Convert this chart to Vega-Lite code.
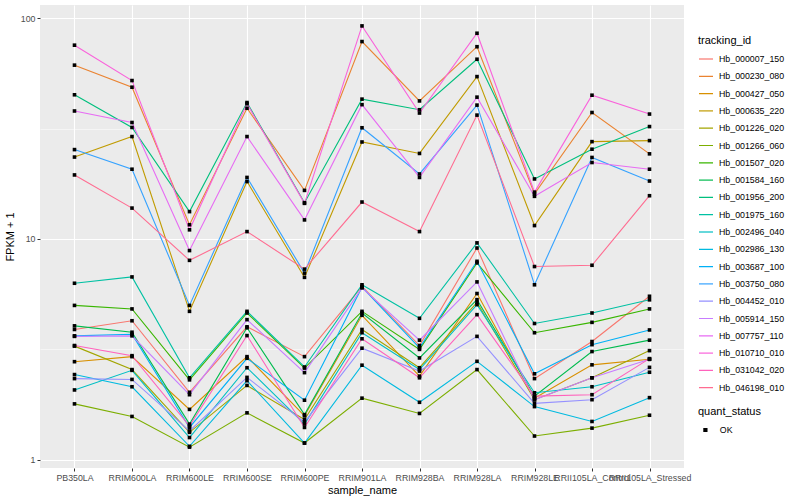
{
"$schema": "https://vega.github.io/schema/vega-lite/v6.json",
"width": 644, "height": 463,
"autosize": {"type": "none"},
"padding": {"left": 40, "top": 5, "right": 116, "bottom": 32},
"background": "white",
"config": {
 "font": "Liberation Sans",
 "view": {"fill": "#EBEBEB", "stroke": null},
 "axis": {"domain": false, "gridColor": "white", "tickColor": "#333333", "tickSize": 3, "labelColor": "#4D4D4D", "labelFontSize": 8.8, "titleFontSize": 11, "titleFontWeight": "normal", "titleColor": "black", "labelPadding": 2}
},
"data": {"values": [
{"tracking_id":"Hb_000007_150","sample_name":"PB350LA","fpkm":3.89,"quant_status":"OK"},
{"tracking_id":"Hb_000007_150","sample_name":"RRIM600LA","fpkm":4.26,"quant_status":"OK"},
{"tracking_id":"Hb_000007_150","sample_name":"RRIM600LE","fpkm":2.02,"quant_status":"OK"},
{"tracking_id":"Hb_000007_150","sample_name":"RRIM600SE","fpkm":4.0,"quant_status":"OK"},
{"tracking_id":"Hb_000007_150","sample_name":"RRIM600PE","fpkm":2.93,"quant_status":"OK"},
{"tracking_id":"Hb_000007_150","sample_name":"RRIM901LA","fpkm":6.1,"quant_status":"OK"},
{"tracking_id":"Hb_000007_150","sample_name":"RRIM928BA","fpkm":3.29,"quant_status":"OK"},
{"tracking_id":"Hb_000007_150","sample_name":"RRIM928LA","fpkm":9.1,"quant_status":"OK"},
{"tracking_id":"Hb_000007_150","sample_name":"RRIM928LE","fpkm":2.33,"quant_status":"OK"},
{"tracking_id":"Hb_000007_150","sample_name":"RRII105LA_Control","fpkm":3.43,"quant_status":"OK"},
{"tracking_id":"Hb_000007_150","sample_name":"RRII105LA_Stressed","fpkm":5.5,"quant_status":"OK"},
{"tracking_id":"Hb_000230_080","sample_name":"PB350LA","fpkm":61.3,"quant_status":"OK"},
{"tracking_id":"Hb_000230_080","sample_name":"RRIM600LA","fpkm":48.7,"quant_status":"OK"},
{"tracking_id":"Hb_000230_080","sample_name":"RRIM600LE","fpkm":11.6,"quant_status":"OK"},
{"tracking_id":"Hb_000230_080","sample_name":"RRIM600SE","fpkm":39.1,"quant_status":"OK"},
{"tracking_id":"Hb_000230_080","sample_name":"RRIM600PE","fpkm":16.6,"quant_status":"OK"},
{"tracking_id":"Hb_000230_080","sample_name":"RRIM901LA","fpkm":78.4,"quant_status":"OK"},
{"tracking_id":"Hb_000230_080","sample_name":"RRIM928BA","fpkm":42.2,"quant_status":"OK"},
{"tracking_id":"Hb_000230_080","sample_name":"RRIM928LA","fpkm":74.3,"quant_status":"OK"},
{"tracking_id":"Hb_000230_080","sample_name":"RRIM928LE","fpkm":16.0,"quant_status":"OK"},
{"tracking_id":"Hb_000230_080","sample_name":"RRII105LA_Control","fpkm":37.4,"quant_status":"OK"},
{"tracking_id":"Hb_000230_080","sample_name":"RRII105LA_Stressed","fpkm":24.3,"quant_status":"OK"},
{"tracking_id":"Hb_000427_050","sample_name":"PB350LA","fpkm":2.78,"quant_status":"OK"},
{"tracking_id":"Hb_000427_050","sample_name":"RRIM600LA","fpkm":2.93,"quant_status":"OK"},
{"tracking_id":"Hb_000427_050","sample_name":"RRIM600LE","fpkm":1.69,"quant_status":"OK"},
{"tracking_id":"Hb_000427_050","sample_name":"RRIM600SE","fpkm":2.93,"quant_status":"OK"},
{"tracking_id":"Hb_000427_050","sample_name":"RRIM600PE","fpkm":1.58,"quant_status":"OK"},
{"tracking_id":"Hb_000427_050","sample_name":"RRIM901LA","fpkm":4.51,"quant_status":"OK"},
{"tracking_id":"Hb_000427_050","sample_name":"RRIM928BA","fpkm":2.39,"quant_status":"OK"},
{"tracking_id":"Hb_000427_050","sample_name":"RRIM928LA","fpkm":5.66,"quant_status":"OK"},
{"tracking_id":"Hb_000427_050","sample_name":"RRIM928LE","fpkm":1.90,"quant_status":"OK"},
{"tracking_id":"Hb_000427_050","sample_name":"RRII105LA_Control","fpkm":2.69,"quant_status":"OK"},
{"tracking_id":"Hb_000427_050","sample_name":"RRII105LA_Stressed","fpkm":2.85,"quant_status":"OK"},
{"tracking_id":"Hb_000635_220","sample_name":"PB350LA","fpkm":23.5,"quant_status":"OK"},
{"tracking_id":"Hb_000635_220","sample_name":"RRIM600LA","fpkm":29.1,"quant_status":"OK"},
{"tracking_id":"Hb_000635_220","sample_name":"RRIM600LE","fpkm":4.7,"quant_status":"OK"},
{"tracking_id":"Hb_000635_220","sample_name":"RRIM600SE","fpkm":18.2,"quant_status":"OK"},
{"tracking_id":"Hb_000635_220","sample_name":"RRIM600PE","fpkm":6.7,"quant_status":"OK"},
{"tracking_id":"Hb_000635_220","sample_name":"RRIM901LA","fpkm":27.5,"quant_status":"OK"},
{"tracking_id":"Hb_000635_220","sample_name":"RRIM928BA","fpkm":24.4,"quant_status":"OK"},
{"tracking_id":"Hb_000635_220","sample_name":"RRIM928LA","fpkm":54.4,"quant_status":"OK"},
{"tracking_id":"Hb_000635_220","sample_name":"RRIM928LE","fpkm":11.5,"quant_status":"OK"},
{"tracking_id":"Hb_000635_220","sample_name":"RRII105LA_Control","fpkm":27.6,"quant_status":"OK"},
{"tracking_id":"Hb_000635_220","sample_name":"RRII105LA_Stressed","fpkm":27.9,"quant_status":"OK"},
{"tracking_id":"Hb_001226_020","sample_name":"PB350LA","fpkm":3.27,"quant_status":"OK"},
{"tracking_id":"Hb_001226_020","sample_name":"RRIM600LA","fpkm":2.56,"quant_status":"OK"},
{"tracking_id":"Hb_001226_020","sample_name":"RRIM600LE","fpkm":1.33,"quant_status":"OK"},
{"tracking_id":"Hb_001226_020","sample_name":"RRIM600SE","fpkm":2.17,"quant_status":"OK"},
{"tracking_id":"Hb_001226_020","sample_name":"RRIM600PE","fpkm":1.52,"quant_status":"OK"},
{"tracking_id":"Hb_001226_020","sample_name":"RRIM901LA","fpkm":3.89,"quant_status":"OK"},
{"tracking_id":"Hb_001226_020","sample_name":"RRIM928BA","fpkm":2.61,"quant_status":"OK"},
{"tracking_id":"Hb_001226_020","sample_name":"RRIM928LA","fpkm":5.16,"quant_status":"OK"},
{"tracking_id":"Hb_001226_020","sample_name":"RRIM928LE","fpkm":1.87,"quant_status":"OK"},
{"tracking_id":"Hb_001226_020","sample_name":"RRII105LA_Control","fpkm":2.35,"quant_status":"OK"},
{"tracking_id":"Hb_001226_020","sample_name":"RRII105LA_Stressed","fpkm":3.12,"quant_status":"OK"},
{"tracking_id":"Hb_001266_060","sample_name":"PB350LA","fpkm":1.79,"quant_status":"OK"},
{"tracking_id":"Hb_001266_060","sample_name":"RRIM600LA","fpkm":1.57,"quant_status":"OK"},
{"tracking_id":"Hb_001266_060","sample_name":"RRIM600LE","fpkm":1.14,"quant_status":"OK"},
{"tracking_id":"Hb_001266_060","sample_name":"RRIM600SE","fpkm":1.63,"quant_status":"OK"},
{"tracking_id":"Hb_001266_060","sample_name":"RRIM600PE","fpkm":1.19,"quant_status":"OK"},
{"tracking_id":"Hb_001266_060","sample_name":"RRIM901LA","fpkm":1.90,"quant_status":"OK"},
{"tracking_id":"Hb_001266_060","sample_name":"RRIM928BA","fpkm":1.62,"quant_status":"OK"},
{"tracking_id":"Hb_001266_060","sample_name":"RRIM928LA","fpkm":2.56,"quant_status":"OK"},
{"tracking_id":"Hb_001266_060","sample_name":"RRIM928LE","fpkm":1.28,"quant_status":"OK"},
{"tracking_id":"Hb_001266_060","sample_name":"RRII105LA_Control","fpkm":1.39,"quant_status":"OK"},
{"tracking_id":"Hb_001266_060","sample_name":"RRII105LA_Stressed","fpkm":1.59,"quant_status":"OK"},
{"tracking_id":"Hb_001507_020","sample_name":"PB350LA","fpkm":5.0,"quant_status":"OK"},
{"tracking_id":"Hb_001507_020","sample_name":"RRIM600LA","fpkm":4.82,"quant_status":"OK"},
{"tracking_id":"Hb_001507_020","sample_name":"RRIM600LE","fpkm":2.30,"quant_status":"OK"},
{"tracking_id":"Hb_001507_020","sample_name":"RRIM600SE","fpkm":4.62,"quant_status":"OK"},
{"tracking_id":"Hb_001507_020","sample_name":"RRIM600PE","fpkm":2.60,"quant_status":"OK"},
{"tracking_id":"Hb_001507_020","sample_name":"RRIM901LA","fpkm":4.70,"quant_status":"OK"},
{"tracking_id":"Hb_001507_020","sample_name":"RRIM928BA","fpkm":3.16,"quant_status":"OK"},
{"tracking_id":"Hb_001507_020","sample_name":"RRIM928LA","fpkm":7.79,"quant_status":"OK"},
{"tracking_id":"Hb_001507_020","sample_name":"RRIM928LE","fpkm":3.76,"quant_status":"OK"},
{"tracking_id":"Hb_001507_020","sample_name":"RRII105LA_Control","fpkm":4.19,"quant_status":"OK"},
{"tracking_id":"Hb_001507_020","sample_name":"RRII105LA_Stressed","fpkm":4.82,"quant_status":"OK"},
{"tracking_id":"Hb_001584_160","sample_name":"PB350LA","fpkm":4.04,"quant_status":"OK"},
{"tracking_id":"Hb_001584_160","sample_name":"RRIM600LA","fpkm":3.78,"quant_status":"OK"},
{"tracking_id":"Hb_001584_160","sample_name":"RRIM600LE","fpkm":1.45,"quant_status":"OK"},
{"tracking_id":"Hb_001584_160","sample_name":"RRIM600SE","fpkm":3.96,"quant_status":"OK"},
{"tracking_id":"Hb_001584_160","sample_name":"RRIM600PE","fpkm":1.60,"quant_status":"OK"},
{"tracking_id":"Hb_001584_160","sample_name":"RRIM901LA","fpkm":4.62,"quant_status":"OK"},
{"tracking_id":"Hb_001584_160","sample_name":"RRIM928BA","fpkm":2.89,"quant_status":"OK"},
{"tracking_id":"Hb_001584_160","sample_name":"RRIM928LA","fpkm":5.31,"quant_status":"OK"},
{"tracking_id":"Hb_001584_160","sample_name":"RRIM928LE","fpkm":1.94,"quant_status":"OK"},
{"tracking_id":"Hb_001584_160","sample_name":"RRII105LA_Control","fpkm":3.09,"quant_status":"OK"},
{"tracking_id":"Hb_001584_160","sample_name":"RRII105LA_Stressed","fpkm":3.48,"quant_status":"OK"},
{"tracking_id":"Hb_001956_200","sample_name":"PB350LA","fpkm":45.0,"quant_status":"OK"},
{"tracking_id":"Hb_001956_200","sample_name":"RRIM600LA","fpkm":32.0,"quant_status":"OK"},
{"tracking_id":"Hb_001956_200","sample_name":"RRIM600LE","fpkm":13.3,"quant_status":"OK"},
{"tracking_id":"Hb_001956_200","sample_name":"RRIM600SE","fpkm":41.5,"quant_status":"OK"},
{"tracking_id":"Hb_001956_200","sample_name":"RRIM600PE","fpkm":14.6,"quant_status":"OK"},
{"tracking_id":"Hb_001956_200","sample_name":"RRIM901LA","fpkm":43.0,"quant_status":"OK"},
{"tracking_id":"Hb_001956_200","sample_name":"RRIM928BA","fpkm":38.5,"quant_status":"OK"},
{"tracking_id":"Hb_001956_200","sample_name":"RRIM928LA","fpkm":65.2,"quant_status":"OK"},
{"tracking_id":"Hb_001956_200","sample_name":"RRIM928LE","fpkm":18.7,"quant_status":"OK"},
{"tracking_id":"Hb_001956_200","sample_name":"RRII105LA_Control","fpkm":25.5,"quant_status":"OK"},
{"tracking_id":"Hb_001956_200","sample_name":"RRII105LA_Stressed","fpkm":32.3,"quant_status":"OK"},
{"tracking_id":"Hb_001975_160","sample_name":"PB350LA","fpkm":6.3,"quant_status":"OK"},
{"tracking_id":"Hb_001975_160","sample_name":"RRIM600LA","fpkm":6.73,"quant_status":"OK"},
{"tracking_id":"Hb_001975_160","sample_name":"RRIM600LE","fpkm":2.35,"quant_status":"OK"},
{"tracking_id":"Hb_001975_160","sample_name":"RRIM600SE","fpkm":4.70,"quant_status":"OK"},
{"tracking_id":"Hb_001975_160","sample_name":"RRIM600PE","fpkm":2.63,"quant_status":"OK"},
{"tracking_id":"Hb_001975_160","sample_name":"RRIM901LA","fpkm":6.2,"quant_status":"OK"},
{"tracking_id":"Hb_001975_160","sample_name":"RRIM928BA","fpkm":4.37,"quant_status":"OK"},
{"tracking_id":"Hb_001975_160","sample_name":"RRIM928LA","fpkm":9.6,"quant_status":"OK"},
{"tracking_id":"Hb_001975_160","sample_name":"RRIM928LE","fpkm":4.14,"quant_status":"OK"},
{"tracking_id":"Hb_001975_160","sample_name":"RRII105LA_Control","fpkm":4.62,"quant_status":"OK"},
{"tracking_id":"Hb_001975_160","sample_name":"RRII105LA_Stressed","fpkm":5.3,"quant_status":"OK"},
{"tracking_id":"Hb_002496_040","sample_name":"PB350LA","fpkm":2.07,"quant_status":"OK"},
{"tracking_id":"Hb_002496_040","sample_name":"RRIM600LA","fpkm":2.54,"quant_status":"OK"},
{"tracking_id":"Hb_002496_040","sample_name":"RRIM600LE","fpkm":1.26,"quant_status":"OK"},
{"tracking_id":"Hb_002496_040","sample_name":"RRIM600SE","fpkm":2.61,"quant_status":"OK"},
{"tracking_id":"Hb_002496_040","sample_name":"RRIM600PE","fpkm":1.45,"quant_status":"OK"},
{"tracking_id":"Hb_002496_040","sample_name":"RRIM901LA","fpkm":3.76,"quant_status":"OK"},
{"tracking_id":"Hb_002496_040","sample_name":"RRIM928BA","fpkm":2.56,"quant_status":"OK"},
{"tracking_id":"Hb_002496_040","sample_name":"RRIM928LA","fpkm":5.04,"quant_status":"OK"},
{"tracking_id":"Hb_002496_040","sample_name":"RRIM928LE","fpkm":2.01,"quant_status":"OK"},
{"tracking_id":"Hb_002496_040","sample_name":"RRII105LA_Control","fpkm":2.14,"quant_status":"OK"},
{"tracking_id":"Hb_002496_040","sample_name":"RRII105LA_Stressed","fpkm":2.49,"quant_status":"OK"},
{"tracking_id":"Hb_002986_130","sample_name":"PB350LA","fpkm":2.43,"quant_status":"OK"},
{"tracking_id":"Hb_002986_130","sample_name":"RRIM600LA","fpkm":2.14,"quant_status":"OK"},
{"tracking_id":"Hb_002986_130","sample_name":"RRIM600LE","fpkm":1.15,"quant_status":"OK"},
{"tracking_id":"Hb_002986_130","sample_name":"RRIM600SE","fpkm":2.28,"quant_status":"OK"},
{"tracking_id":"Hb_002986_130","sample_name":"RRIM600PE","fpkm":1.19,"quant_status":"OK"},
{"tracking_id":"Hb_002986_130","sample_name":"RRIM901LA","fpkm":2.68,"quant_status":"OK"},
{"tracking_id":"Hb_002986_130","sample_name":"RRIM928BA","fpkm":1.82,"quant_status":"OK"},
{"tracking_id":"Hb_002986_130","sample_name":"RRIM928LA","fpkm":2.79,"quant_status":"OK"},
{"tracking_id":"Hb_002986_130","sample_name":"RRIM928LE","fpkm":1.74,"quant_status":"OK"},
{"tracking_id":"Hb_002986_130","sample_name":"RRII105LA_Control","fpkm":1.49,"quant_status":"OK"},
{"tracking_id":"Hb_002986_130","sample_name":"RRII105LA_Stressed","fpkm":1.91,"quant_status":"OK"},
{"tracking_id":"Hb_003687_100","sample_name":"PB350LA","fpkm":3.64,"quant_status":"OK"},
{"tracking_id":"Hb_003687_100","sample_name":"RRIM600LA","fpkm":3.70,"quant_status":"OK"},
{"tracking_id":"Hb_003687_100","sample_name":"RRIM600LE","fpkm":1.40,"quant_status":"OK"},
{"tracking_id":"Hb_003687_100","sample_name":"RRIM600SE","fpkm":2.88,"quant_status":"OK"},
{"tracking_id":"Hb_003687_100","sample_name":"RRIM600PE","fpkm":1.86,"quant_status":"OK"},
{"tracking_id":"Hb_003687_100","sample_name":"RRIM901LA","fpkm":6.05,"quant_status":"OK"},
{"tracking_id":"Hb_003687_100","sample_name":"RRIM928BA","fpkm":3.21,"quant_status":"OK"},
{"tracking_id":"Hb_003687_100","sample_name":"RRIM928LA","fpkm":7.92,"quant_status":"OK"},
{"tracking_id":"Hb_003687_100","sample_name":"RRIM928LE","fpkm":2.45,"quant_status":"OK"},
{"tracking_id":"Hb_003687_100","sample_name":"RRII105LA_Control","fpkm":3.32,"quant_status":"OK"},
{"tracking_id":"Hb_003687_100","sample_name":"RRII105LA_Stressed","fpkm":3.87,"quant_status":"OK"},
{"tracking_id":"Hb_003750_080","sample_name":"PB350LA","fpkm":25.4,"quant_status":"OK"},
{"tracking_id":"Hb_003750_080","sample_name":"RRIM600LA","fpkm":20.7,"quant_status":"OK"},
{"tracking_id":"Hb_003750_080","sample_name":"RRIM600LE","fpkm":5.0,"quant_status":"OK"},
{"tracking_id":"Hb_003750_080","sample_name":"RRIM600SE","fpkm":19.0,"quant_status":"OK"},
{"tracking_id":"Hb_003750_080","sample_name":"RRIM600PE","fpkm":7.0,"quant_status":"OK"},
{"tracking_id":"Hb_003750_080","sample_name":"RRIM901LA","fpkm":31.9,"quant_status":"OK"},
{"tracking_id":"Hb_003750_080","sample_name":"RRIM928BA","fpkm":19.7,"quant_status":"OK"},
{"tracking_id":"Hb_003750_080","sample_name":"RRIM928LA","fpkm":40.4,"quant_status":"OK"},
{"tracking_id":"Hb_003750_080","sample_name":"RRIM928LE","fpkm":6.2,"quant_status":"OK"},
{"tracking_id":"Hb_003750_080","sample_name":"RRII105LA_Control","fpkm":23.4,"quant_status":"OK"},
{"tracking_id":"Hb_003750_080","sample_name":"RRII105LA_Stressed","fpkm":18.3,"quant_status":"OK"},
{"tracking_id":"Hb_004452_010","sample_name":"PB350LA","fpkm":2.33,"quant_status":"OK"},
{"tracking_id":"Hb_004452_010","sample_name":"RRIM600LA","fpkm":2.31,"quant_status":"OK"},
{"tracking_id":"Hb_004452_010","sample_name":"RRIM600LE","fpkm":1.35,"quant_status":"OK"},
{"tracking_id":"Hb_004452_010","sample_name":"RRIM600SE","fpkm":2.36,"quant_status":"OK"},
{"tracking_id":"Hb_004452_010","sample_name":"RRIM600PE","fpkm":1.48,"quant_status":"OK"},
{"tracking_id":"Hb_004452_010","sample_name":"RRIM901LA","fpkm":3.20,"quant_status":"OK"},
{"tracking_id":"Hb_004452_010","sample_name":"RRIM928BA","fpkm":2.52,"quant_status":"OK"},
{"tracking_id":"Hb_004452_010","sample_name":"RRIM928LA","fpkm":3.62,"quant_status":"OK"},
{"tracking_id":"Hb_004452_010","sample_name":"RRIM928LE","fpkm":1.80,"quant_status":"OK"},
{"tracking_id":"Hb_004452_010","sample_name":"RRII105LA_Control","fpkm":1.87,"quant_status":"OK"},
{"tracking_id":"Hb_004452_010","sample_name":"RRII105LA_Stressed","fpkm":2.62,"quant_status":"OK"},
{"tracking_id":"Hb_005914_150","sample_name":"PB350LA","fpkm":3.62,"quant_status":"OK"},
{"tracking_id":"Hb_005914_150","sample_name":"RRIM600LA","fpkm":3.64,"quant_status":"OK"},
{"tracking_id":"Hb_005914_150","sample_name":"RRIM600LE","fpkm":1.97,"quant_status":"OK"},
{"tracking_id":"Hb_005914_150","sample_name":"RRIM600SE","fpkm":4.31,"quant_status":"OK"},
{"tracking_id":"Hb_005914_150","sample_name":"RRIM600PE","fpkm":2.48,"quant_status":"OK"},
{"tracking_id":"Hb_005914_150","sample_name":"RRIM901LA","fpkm":6.0,"quant_status":"OK"},
{"tracking_id":"Hb_005914_150","sample_name":"RRIM928BA","fpkm":3.48,"quant_status":"OK"},
{"tracking_id":"Hb_005914_150","sample_name":"RRIM928LA","fpkm":6.39,"quant_status":"OK"},
{"tracking_id":"Hb_005914_150","sample_name":"RRIM928LE","fpkm":1.87,"quant_status":"OK"},
{"tracking_id":"Hb_005914_150","sample_name":"RRII105LA_Control","fpkm":2.35,"quant_status":"OK"},
{"tracking_id":"Hb_005914_150","sample_name":"RRII105LA_Stressed","fpkm":2.85,"quant_status":"OK"},
{"tracking_id":"Hb_007757_110","sample_name":"PB350LA","fpkm":38.0,"quant_status":"OK"},
{"tracking_id":"Hb_007757_110","sample_name":"RRIM600LA","fpkm":33.7,"quant_status":"OK"},
{"tracking_id":"Hb_007757_110","sample_name":"RRIM600LE","fpkm":8.86,"quant_status":"OK"},
{"tracking_id":"Hb_007757_110","sample_name":"RRIM600SE","fpkm":29.1,"quant_status":"OK"},
{"tracking_id":"Hb_007757_110","sample_name":"RRIM600PE","fpkm":12.2,"quant_status":"OK"},
{"tracking_id":"Hb_007757_110","sample_name":"RRIM901LA","fpkm":40.6,"quant_status":"OK"},
{"tracking_id":"Hb_007757_110","sample_name":"RRIM928BA","fpkm":19.0,"quant_status":"OK"},
{"tracking_id":"Hb_007757_110","sample_name":"RRIM928LA","fpkm":43.9,"quant_status":"OK"},
{"tracking_id":"Hb_007757_110","sample_name":"RRIM928LE","fpkm":15.6,"quant_status":"OK"},
{"tracking_id":"Hb_007757_110","sample_name":"RRII105LA_Control","fpkm":22.2,"quant_status":"OK"},
{"tracking_id":"Hb_007757_110","sample_name":"RRII105LA_Stressed","fpkm":20.7,"quant_status":"OK"},
{"tracking_id":"Hb_010710_010","sample_name":"PB350LA","fpkm":75.5,"quant_status":"OK"},
{"tracking_id":"Hb_010710_010","sample_name":"RRIM600LA","fpkm":52.2,"quant_status":"OK"},
{"tracking_id":"Hb_010710_010","sample_name":"RRIM600LE","fpkm":11.0,"quant_status":"OK"},
{"tracking_id":"Hb_010710_010","sample_name":"RRIM600SE","fpkm":41.0,"quant_status":"OK"},
{"tracking_id":"Hb_010710_010","sample_name":"RRIM600PE","fpkm":14.5,"quant_status":"OK"},
{"tracking_id":"Hb_010710_010","sample_name":"RRIM901LA","fpkm":92.3,"quant_status":"OK"},
{"tracking_id":"Hb_010710_010","sample_name":"RRIM928BA","fpkm":37.2,"quant_status":"OK"},
{"tracking_id":"Hb_010710_010","sample_name":"RRIM928LA","fpkm":85.5,"quant_status":"OK"},
{"tracking_id":"Hb_010710_010","sample_name":"RRIM928LE","fpkm":16.3,"quant_status":"OK"},
{"tracking_id":"Hb_010710_010","sample_name":"RRII105LA_Control","fpkm":44.8,"quant_status":"OK"},
{"tracking_id":"Hb_010710_010","sample_name":"RRII105LA_Stressed","fpkm":36.8,"quant_status":"OK"},
{"tracking_id":"Hb_031042_020","sample_name":"PB350LA","fpkm":3.29,"quant_status":"OK"},
{"tracking_id":"Hb_031042_020","sample_name":"RRIM600LA","fpkm":2.96,"quant_status":"OK"},
{"tracking_id":"Hb_031042_020","sample_name":"RRIM600LE","fpkm":1.42,"quant_status":"OK"},
{"tracking_id":"Hb_031042_020","sample_name":"RRIM600SE","fpkm":3.65,"quant_status":"OK"},
{"tracking_id":"Hb_031042_020","sample_name":"RRIM600PE","fpkm":1.40,"quant_status":"OK"},
{"tracking_id":"Hb_031042_020","sample_name":"RRIM901LA","fpkm":3.53,"quant_status":"OK"},
{"tracking_id":"Hb_031042_020","sample_name":"RRIM928BA","fpkm":2.35,"quant_status":"OK"},
{"tracking_id":"Hb_031042_020","sample_name":"RRIM928LA","fpkm":4.54,"quant_status":"OK"},
{"tracking_id":"Hb_031042_020","sample_name":"RRIM928LE","fpkm":1.94,"quant_status":"OK"},
{"tracking_id":"Hb_031042_020","sample_name":"RRII105LA_Control","fpkm":1.97,"quant_status":"OK"},
{"tracking_id":"Hb_031042_020","sample_name":"RRII105LA_Stressed","fpkm":2.87,"quant_status":"OK"},
{"tracking_id":"Hb_046198_010","sample_name":"PB350LA","fpkm":19.5,"quant_status":"OK"},
{"tracking_id":"Hb_046198_010","sample_name":"RRIM600LA","fpkm":13.8,"quant_status":"OK"},
{"tracking_id":"Hb_046198_010","sample_name":"RRIM600LE","fpkm":8.0,"quant_status":"OK"},
{"tracking_id":"Hb_046198_010","sample_name":"RRIM600SE","fpkm":10.8,"quant_status":"OK"},
{"tracking_id":"Hb_046198_010","sample_name":"RRIM600PE","fpkm":7.3,"quant_status":"OK"},
{"tracking_id":"Hb_046198_010","sample_name":"RRIM901LA","fpkm":14.7,"quant_status":"OK"},
{"tracking_id":"Hb_046198_010","sample_name":"RRIM928BA","fpkm":10.8,"quant_status":"OK"},
{"tracking_id":"Hb_046198_010","sample_name":"RRIM928LA","fpkm":36.4,"quant_status":"OK"},
{"tracking_id":"Hb_046198_010","sample_name":"RRIM928LE","fpkm":7.5,"quant_status":"OK"},
{"tracking_id":"Hb_046198_010","sample_name":"RRII105LA_Control","fpkm":7.6,"quant_status":"OK"},
{"tracking_id":"Hb_046198_010","sample_name":"RRII105LA_Stressed","fpkm":15.7,"quant_status":"OK"}
]},
"encoding": {
 "x": {"field": "sample_name", "type": "nominal", "title": "sample_name",
   "sort": ["PB350LA","RRIM600LA","RRIM600LE","RRIM600SE","RRIM600PE","RRIM901LA","RRIM928BA","RRIM928LA","RRIM928LE","RRII105LA_Control","RRII105LA_Stressed"],
   "scale": {"type": "point", "padding": 0.6},
   "axis": {"labelAngle": 0, "grid": true, "gridWidth": 1.1, "titlePadding": 3, "labelOverlap": false}},
 "y": {"field": "fpkm", "type": "quantitative", "title": "FPKM + 1",
   "scale": {"type": "log", "domain": [0.917, 114.8], "nice": false},
   "axis": {"values": [1, 3.1623, 10, 31.623, 100],
     "labelExpr": "datum.value==1?'1':datum.value==10?'10':datum.value==100?'100':''",
     "gridWidth": {"condition": {"test": "datum.value==1||datum.value==10||datum.value==100", "value": 1.1}, "value": 0.5},
     "tickOpacity": {"condition": {"test": "datum.value==1||datum.value==10||datum.value==100", "value": 1}, "value": 0},
     "titlePadding": 5}}
},
"layer": [
 {"mark": {"type": "line", "strokeWidth": 1.1},
  "encoding": {"color": {"field": "tracking_id", "type": "nominal", "title": "tracking_id",
    "scale": {"range": ["#F8766D","#EA8331","#D89000","#C09B00","#A3A500","#7CAE00","#39B600","#00BB4E","#00BF7D","#00C1A3","#00BFC4","#00BAE0","#00B0F6","#35A2FF","#9590FF","#C77CFF","#E76BF3","#FA62DB","#FF62BC","#FF6C91"]},
    "legend": {"orient": "none", "legendX": 658, "legendY": 30, "symbolType": "stroke", "symbolSize": 196, "symbolStrokeWidth": 1.2, "labelFontSize": 8.8, "labelColor": "black", "titleFontSize": 11, "titleFontWeight": "normal", "titleColor": "black", "clipHeight": 14, "rowPadding": 3.3, "labelOffset": 5, "titlePadding": 6}}}},
 {"mark": {"type": "point", "filled": true, "color": "black", "opacity": 1, "size": 13},
  "encoding": {"shape": {"field": "quant_status", "type": "nominal", "title": "quant_status",
    "scale": {"range": ["square"]},
    "legend": {"orient": "none", "legendX": 658, "legendY": 401, "symbolSize": 18, "symbolFillColor": "black", "symbolStrokeColor": "black", "symbolOffset": 3, "labelFontSize": 8.8, "labelColor": "black", "titleFontSize": 11, "titleFontWeight": "normal", "titleColor": "black", "clipHeight": 14, "labelOffset": 10, "titlePadding": 6}}}}
]
}
